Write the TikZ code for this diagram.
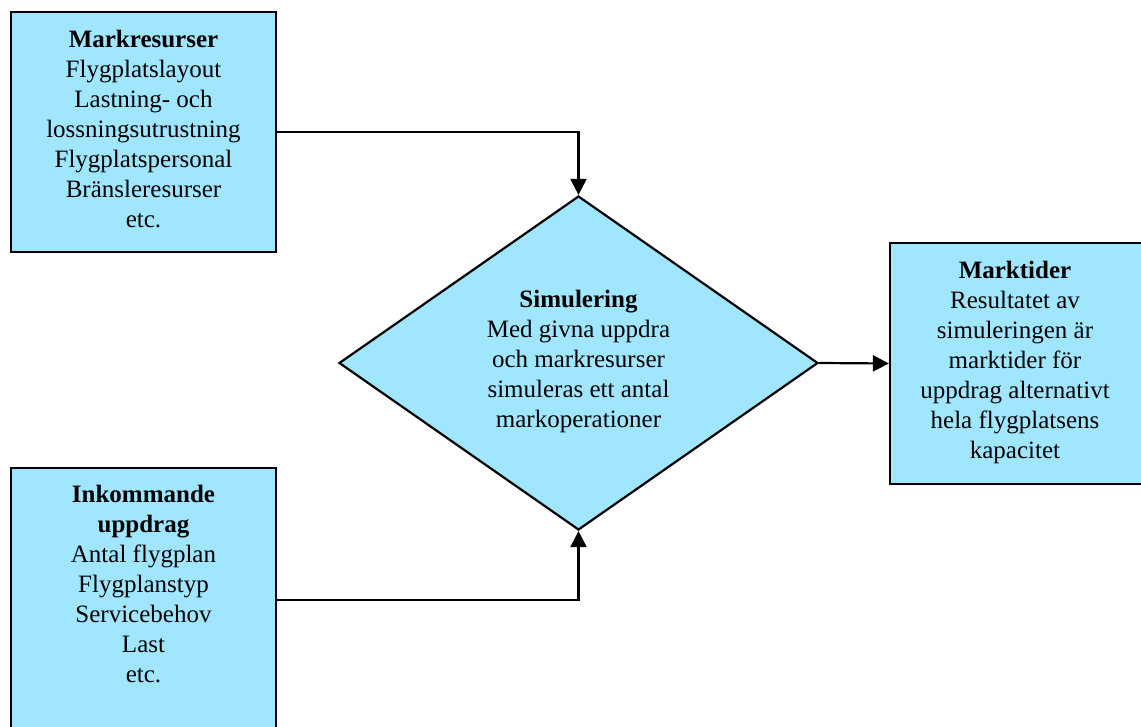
\documentclass[tikz,border=0pt]{standalone}
\usepackage{fontspec}
\setmainfont{Liberation Serif}
\usetikzlibrary{shapes.geometric,arrows.meta}
\definecolor{boxfill}{HTML}{A0E6FF}
\begin{document}
\begin{tikzpicture}[x=1pt,y=-1pt,
  panel/.style={draw=black,line width=2.2pt,fill=boxfill,rectangle,inner sep=0pt},
  caption/.style={align=center,anchor=north,inner sep=0pt,
    font=\fontsize{25}{30}\selectfont},
  link/.style={draw=black,line width=2.2pt,-{Triangle[length=16pt,width=16pt]}}]
\useasboundingbox (0,0) rectangle (1141,727);
\begin{scope}
\clip (0,0) rectangle (1141,727);
% boxes
\node[panel,minimum width=265pt,minimum height=240pt] (res) at (143.5,132) {};
\node[panel,minimum width=265pt,minimum height=264pt] (mis) at (143.5,600) {};
\node[panel,minimum width=256pt,minimum height=241pt] (out) at (1018,363.5) {};
\node[draw=black,line width=2.2pt,fill=boxfill,shape=diamond,inner sep=0pt,
  minimum width=479pt,minimum height=334pt] (sim) at (578.5,363) {};
% texts
\node[caption] (resT) at (143.5,30) {\textbf{Markresurser}\\Flygplatslayout\\Lastning- och\\lossningsutrustning\\Flygplatspersonal\\Bränsleresurser\\etc.};
\node[caption] (misT) at (143.5,485) {\textbf{Inkommande}\\\textbf{uppdrag}\\Antal flygplan\\Flygplanstyp\\Servicebehov\\Last\\etc.};
\node[caption] (outT) at (1015,261) {\textbf{Marktider}\\Resultatet av\\simuleringen är\\marktider för\\uppdrag alternativt\\hela flygplatsens\\kapacitet};
\node[caption] (simT) at (578.5,290) {\textbf{Simulering}\\Med givna uppdra\\och markresurser\\simuleras ett antal\\markoperationer};
% connectors
\draw[link] (res.east) -| (sim.north);
\draw[link] (mis.east) -| (sim.south);
\draw[link] (sim.east) -- (out.west);
\end{scope}
\end{tikzpicture}
\end{document}
